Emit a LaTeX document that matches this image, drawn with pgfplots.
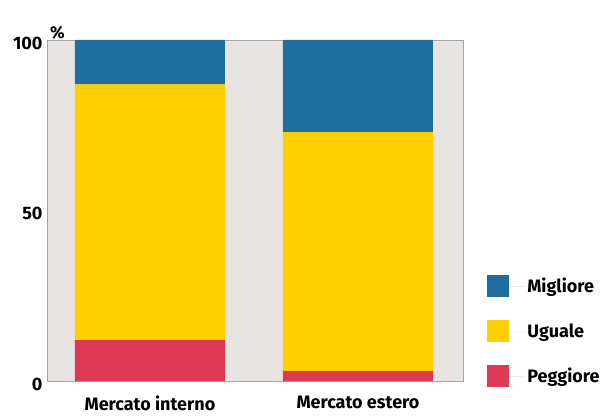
\documentclass[border=0pt]{standalone}
\usepackage{pgfplots}
\pgfplotsset{compat=1.18}
\usepackage{fontspec}
\setmainfont{Fira Sans}
\definecolor{cblue}{HTML}{1F6E9E}
\definecolor{cyellow}{HTML}{FFD000}
\definecolor{cred}{HTML}{DE3A56}
\definecolor{cbg}{HTML}{E8E4E1}
\begin{document}
\begin{tikzpicture}[x=1pt,y=1pt]
\useasboundingbox (0,0) rectangle (607,415);
\begin{axis}[
  at={(47pt,34pt)}, anchor=south west,
  scale only axis, width=416pt, height=341pt,
  clip=false,
  ybar stacked, bar width=150pt,
  xmin=-0.495, xmax=1.505, ymin=0, ymax=100,
  xtick={0,1}, xticklabels={Mercato interno, Mercato estero},
  ytick={0,50,100},
  major tick length=0pt,
  axis background/.style={fill=cbg},
  axis line style={draw=gray!70, thin},
  tick label style={font=\fontsize{18}{18}\selectfont\bfseries},
  /pgf/number format/assume math mode=true,
  x tick label style={yshift=-11pt},
  y tick label style={xshift=-1pt, yshift=-3pt},
  reverse legend,
  legend cell align=left,
  legend style={at={(1.058,0.311)}, anchor=north west, draw=none, fill=none,
    inner sep=0pt, row sep=23pt, font=\fontsize{18}{18}\selectfont\bfseries},
  legend image code/.code={\fill[#1] (0pt,-11pt) rectangle (22pt,11pt);\path (0pt,0pt) -- (38pt,0pt);},
]
\addplot[fill=cred, draw=none] coordinates {(0,12) (1,3)};
\addplot[fill=cyellow, draw=none] coordinates {(0,75) (1,70)};
\addplot[fill=cblue, draw=none] coordinates {(0,13) (1,27)};
\legend{Peggiore, Uguale, Migliore}
\node[anchor=south, font=\fontsize{17}{17}\selectfont\bfseries, inner sep=1pt] at (rel axis cs:0.025,1) {\%};
\end{axis}
\end{tikzpicture}
\end{document}
